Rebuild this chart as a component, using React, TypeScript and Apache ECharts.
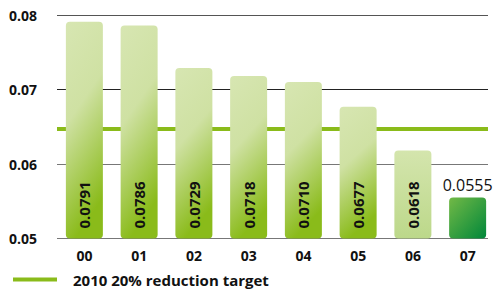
import React, { useEffect, useRef } from "react";
import * as echarts from "echarts";

const years = ["00", "01", "02", "03", "04", "05", "06", "07"];
const values = [0.0791, 0.0786, 0.0729, 0.0718, 0.071, 0.0677, 0.0618, 0.0555];
const targetValue = 0.0647;
const targetName = "2010 20% reduction target";
const yTicks = { min: 0.05, max: 0.08, interval: 0.01 };

const FONT = "'Open Sans', 'Noto Sans', sans-serif";

function barColor(i: number) {
  if (i === 7) {
    return new echarts.graphic.LinearGradient(0, 0, 1, 1, [
      { offset: 0, color: "#72b946" },
      { offset: 1, color: "#00873a" },
    ]);
  }
  if (i === 6) {
    return new echarts.graphic.LinearGradient(0, 0, 0, 1, [
      { offset: 0, color: "#d4e5ad" },
      { offset: 1, color: "#bcd88a" },
    ]);
  }
  return new echarts.graphic.LinearGradient(0, 0, 0.25, 1, [
    { offset: 0, color: "#d7e6b2" },
    { offset: 0.45, color: "#cfe1a3" },
    { offset: 1, color: "#8abb1a" },
  ]);
}

export default function App() {
  const ref = useRef<HTMLDivElement>(null);
  useEffect(() => {
    if (!ref.current) return;
    const chart = echarts.init(ref.current, null, { renderer: "svg" });
    const barData = values.map((v, i) => {
      const item: any = { value: v, itemStyle: { color: barColor(i) } };
      if (i === values.length - 1) {
        item.label = {
          position: "top",
          rotate: 0,
          align: "center",
          verticalAlign: "bottom",
          distance: 5,
          fontWeight: "normal",
          fontSize: 16,
          color: "#111",
        };
      }
      return item;
    });
    chart.setOption({
      animation: false,
      textStyle: { fontFamily: FONT },
      grid: [
        { left: 57, right: 7, top: 15, bottom: 55.5 },
        { left: 57, right: 0, top: 15, bottom: 55.5 },
      ],
      legend: {
        data: [targetName],
        left: 13,
        top: 272,
        padding: 0,
        icon: "rect",
        itemWidth: 44,
        itemHeight: 4,
        textStyle: {
          fontFamily: FONT,
          fontWeight: "bold",
          fontSize: 15,
          color: "#111",
          padding: [0, 0, 0, 11],
        },
      },
      xAxis: [
        { type: "value", gridIndex: 0, min: 0, max: 1, show: false },
        {
          type: "category",
          gridIndex: 1,
          data: years,
          axisLine: { show: false },
          axisTick: { show: false },
          axisLabel: {
            margin: 10,
            fontFamily: FONT,
            fontWeight: "bold",
            fontSize: 14,
            color: "#111",
          },
        },
      ],
      yAxis: [
        {
          type: "value",
          gridIndex: 0,
          min: yTicks.min,
          max: yTicks.max,
          interval: yTicks.interval,
          axisLine: { show: false },
          axisTick: { show: false },
          axisLabel: {
            margin: 20,
            fontFamily: FONT,
            fontWeight: "bold",
            fontSize: 14,
            color: "#111",
            formatter: (v: number) => v.toFixed(2),
          },
          splitLine: {
            lineStyle: { color: ["#777", "#777", "#222", "#555"], width: 1.2 },
          },
        },
        {
          type: "value",
          gridIndex: 1,
          min: yTicks.min,
          max: yTicks.max,
          interval: yTicks.interval,
          show: false,
          splitLine: { show: false },
        },
      ],
      series: [
        {
          name: targetName,
          type: "line",
          xAxisIndex: 0,
          yAxisIndex: 0,
          data: [
            [0, targetValue],
            [1, targetValue],
          ],
          symbol: "none",
          z: 1,
          itemStyle: { color: "#8abb1a" },
          lineStyle: { color: "#8abb1a", width: 4 },
        },
        {
          name: "values",
          type: "bar",
          xAxisIndex: 1,
          yAxisIndex: 1,
          barWidth: 37,
          z: 3,
          data: barData,
          itemStyle: { borderRadius: 4 },
          label: {
            show: true,
            position: "insideBottom",
            rotate: 90,
            align: "left",
            verticalAlign: "middle",
            distance: 10,
            fontFamily: FONT,
            fontWeight: "bold",
            fontSize: 15,
            color: "#111",
            formatter: (p: any) => Number(p.value).toFixed(4),
          },
        },
      ],
    });
    return () => chart.dispose();
  }, []);
  return (
    <div
      ref={ref}
      style={{ position: "absolute", left: 0, top: 0, width: 495, height: 294 }}
    />
  );
}
